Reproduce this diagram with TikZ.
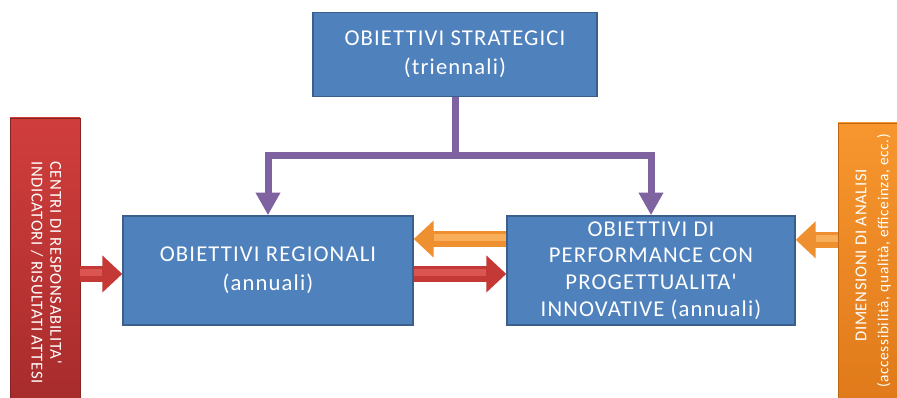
\documentclass[tikz,border=0pt]{standalone}
\usepackage{fontspec}
\setmainfont{Carlito}
\newfontfamily\boxfont[LetterSpace=5]{Carlito}
\newfontfamily\barfont[LetterSpace=4]{Carlito}
\usetikzlibrary{arrows.meta}
\definecolor{boxblue}{HTML}{4F81BD}
\definecolor{boxedge}{HTML}{3A5F8B}
\definecolor{purp}{HTML}{7F63A1}
\definecolor{redtop}{HTML}{D03E3C}
\definecolor{redbot}{HTML}{A82C2C}
\definecolor{orgtop}{HTML}{F7962E}
\definecolor{orgbot}{HTML}{E07A1A}
\definecolor{rarr}{HTML}{C43836}
\definecolor{rarrhi}{HTML}{DB5553}
\definecolor{oarr}{HTML}{EF9030}
\definecolor{oarrhi}{HTML}{F9AE5A}
\tikzset{
  bluebox/.style={draw=boxedge, line width=1.1pt, fill=boxblue, text=white,
    align=center, inner sep=0pt, font=\boxfont\fontsize{17}{21.75}\selectfont},
  redbar/.style={draw=redbot!80!black, line width=0.6pt, top color=redtop, bottom color=redbot, inner sep=0pt},
  orgbar/.style={draw=orgbot!85!black, line width=0.6pt, top color=orgtop, bottom color=orgbot, inner sep=0pt},
  bartext/.style={text=white, inner sep=0pt, font=\barfont\fontsize{12.5}{14}\selectfont},
  purparrow/.style={draw=purp, line width=5.25pt, -{Triangle[width=17.5pt,length=17pt]}},
  redarrow/.style={draw=rarr, line width=12pt, -{Triangle[width=27pt,length=15pt]},
    postaction={draw=rarrhi, line width=5pt, -, shorten >=15pt, transform canvas={yshift=1pt}}},
  orgarrow/.style={draw=oarr, line width=12pt, -{Triangle[width=27pt,length=15pt]},
    postaction={draw=oarrhi, line width=5pt, -, shorten >=15pt, transform canvas={yshift=1pt}}}
}
\begin{document}
\begin{tikzpicture}[x=0.75pt,y=-0.75pt]
\useasboundingbox[fill=white] (0,0) rectangle (897,398);
% bars
\node[redbar, minimum width=52.5pt, minimum height=210pt] (rbar) at (45,258) {};
\node[orgbar, minimum width=44.25pt, minimum height=206.25pt] (obar) at (867.5,260.5) {};
\node[bartext, rotate=-90, anchor=west] (rb1) at (56,161) {CENTRI DI RESPONSABILITA'};
\node[bartext, rotate=-90, anchor=west] (rb2) at (37,161) {INDICATORI / RISULTATI ATTESI};
\node[bartext, rotate=90, anchor=west] (ob1) at (861,342) {DIMENSIONI DI ANALISI};
\node[bartext, rotate=90, anchor=west, font=\barfont\fontsize{11.5}{14}\selectfont] (ob2) at (884,388) {(accessibilità, qualità, efficeinza, ecc.)};
% boxes
\node[bluebox, minimum width=213pt, minimum height=63pt] (str) at (455,54.5)
  {OBIETTIVI STRATEGICI\\(triennali)};
\node[bluebox, minimum width=217.5pt, minimum height=81.75pt] (reg) at (268,270.5)
  {OBIETTIVI REGIONALI\\(annuali)};
\node[bluebox, minimum width=216pt, minimum height=81.75pt, font=\boxfont\fontsize{17}{20}\selectfont] (perf) at (651,270.5)
  {OBIETTIVI DI\\PERFORMANCE CON\\PROGETTUALITA'\\INNOVATIVE (annuali)};
% purple connectors
\coordinate (j) at (455,156);
\draw[purparrow] (str.south) -- (j) -| (reg.north);
\draw[purparrow] (j) -| (perf.north);
% block arrows
\coordinate (pw1) at ([yshift=23.6pt]perf.west);
\coordinate (re1) at ([yshift=23.6pt]reg.east);
\coordinate (re2) at ([yshift=-2.6pt]reg.east);
\coordinate (pw2) at ([yshift=-2.6pt]perf.west);
\coordinate (rw1) at ([yshift=-2.6pt]reg.west);
\coordinate (pe1) at ([yshift=23pt]perf.east);
\draw[orgarrow] (pw1) -- (re1);
\draw[redarrow] (re2) -- (pw2);
\draw[redarrow] (rbar.east |- rw1) -- (rw1);
\draw[orgarrow] (obar.west |- pe1) -- (pe1);
\end{tikzpicture}
\end{document}
